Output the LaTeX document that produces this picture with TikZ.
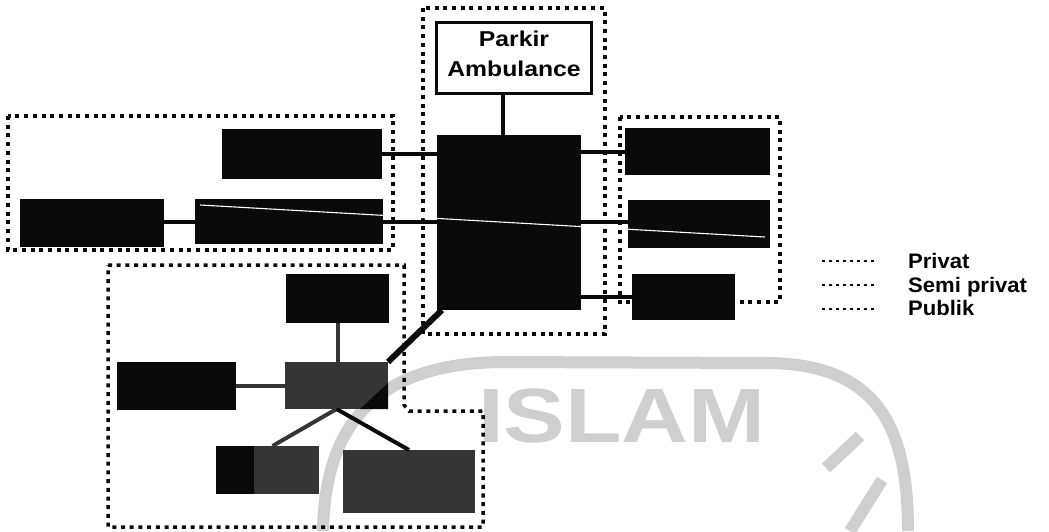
\documentclass[tikz,border=0pt]{standalone}
\usepackage{fontspec}
\setmainfont{Liberation Sans}
\newfontfamily\pafont{Liberation Sans}[FakeStretch=1.15]
\newfontfamily\lgfont{Liberation Sans}[FakeStretch=1.05]
\newfontfamily\wmfont{Liberation Sans}[FakeStretch=1.2]
\definecolor{blk}{HTML}{0A0A0A}
\definecolor{dgray}{HTML}{353535}
\definecolor{wm}{HTML}{CFCFCF}
\begin{document}
\begin{tikzpicture}[x=1pt,y=-1pt,
  zone/.style={line width=3.5pt, dash pattern=on 4pt off 4.7pt, blk},
  keyline/.style={line width=2.6pt, dash pattern=on 3pt off 4pt, blk},
  block/.style={fill=blk, draw=none, inner sep=0pt, outer sep=0pt, anchor=north west},
  gblock/.style={block, fill=dgray},
  link/.style={line width=4pt, blk},
  glink/.style={line width=4pt, dgray},
  pabox/.style={draw=blk, fill=white, line width=3pt, inner sep=0pt, minimum width=155pt,
    minimum height=71pt, align=center, text depth=8pt,
    font=\pafont\bfseries\fontsize{21.5}{30}\selectfont},
  keytext/.style={anchor=base west, inner sep=0pt, font=\lgfont\bfseries\fontsize{21}{24}\selectfont},
  wmark/.style={line width=12pt, wm}]
\useasboundingbox (0,0) rectangle (1049,531);

% faint watermark of the scan
\draw[wmark] (323,531) .. controls (325,420) and (380,364) .. (500,362) -- (770,363)
  .. controls (880,365) and (908,430) .. (908,531);
\draw[wmark] (860,436) -- (826,468);
\draw[wmark] (882,480) -- (850,531);
\node[anchor=base west, inner sep=0pt, text=wm, font=\wmfont\bfseries\fontsize{77}{80}\selectfont] (wmtext) at (478,442) {ISLAM};

% zones
\draw[zone] (8,116) rectangle (393,250);
\draw[zone] (423,8) rectangle (605,334);
\draw[zone] (620,117) rectangle (780,302);
\draw[zone] (108,265) -- (404,265) -- (404,405) -- (409,411) -- (483,411) -- (483,527) -- (108,527) -- cycle;

% blocks
\node[pabox] (PA) at (514,58) {Parkir\\Ambulance};
\node[block, minimum width=144pt, minimum height=175pt] (C) at (437,135) {};
\node[block, minimum width=160pt, minimum height=50pt] (L1) at (222,129) {};
\node[block, minimum width=144pt, minimum height=48pt] (L2) at (20,199) {};
\node[block, minimum width=188pt, minimum height=45pt] (L3) at (195,199) {};
\node[block, minimum width=145pt, minimum height=47pt] (R1) at (625,128) {};
\node[block, minimum width=142pt, minimum height=48pt] (R2) at (628,200) {};
\node[block, minimum width=103pt, minimum height=46pt] (R3) at (632,274) {};
\node[block, minimum width=103pt, minimum height=49pt] (B1) at (286,274) {};
\node[block, minimum width=119pt, minimum height=48pt] (B2) at (117,362) {};
\node[gblock, minimum width=103pt, minimum height=47pt] (B3) at (285,362) {};
\node[gblock, minimum width=103pt, minimum height=48pt] (B4) at (216,446) {};
\node[gblock, minimum width=132pt, minimum height=63pt] (B5) at (343,450) {};
\fill[blk] (B4.north west) rectangle ([xshift=38pt]B4.south west);
\fill[blk] (B3.south east) -- ++(0,-26) -- ++(-28,26) -- cycle;

% connectors
\draw[link] ([xshift=-11pt]PA.south) -- ([xshift=-11pt]PA.south |- C.north);
\draw[link] (L1.east) -- (L1.east -| C.west);
\draw[link] (L2.east |- L3.east) -- (L3.west);
\draw[link] (L3.east) -- (L3.east -| C.west);
\draw[link] (C.east |- L3.east) -- (R2.west |- L3.east);
\draw[link] (C.east |- R1.west) -- (R1.west);
\draw[link] (C.east |- R3.west) -- (R3.west);
\draw[link, line width=6pt] ([xshift=5pt]C.south west) -- (B3.north east);
\draw[glink] (B1.south) -- (B1.south |- B3.north);
\draw[glink] (B2.east) -- (B2.east -| B3.west);
\draw[glink] (B3.south) -- ([xshift=5pt]B4.north);
\draw[link] (B3.south) -- (B5.north);

% white scan line through the blocks
\coordinate (w1) at (200,205);
\coordinate (w2) at (765,237);
\draw[white, line width=1.1pt] (w1) -- (w2);

% legend
\node[keytext] (kp) at (908,268) {Privat};
\node[keytext] (ks) at (908,292) {Semi privat};
\node[keytext] (kb) at (908,315) {Publik};
\draw[keyline] (822,261) -- (877,261);
\draw[keyline] (822,285) -- (877,285);
\draw[keyline] (822,309) -- (877,309);
\end{tikzpicture}
\end{document}
